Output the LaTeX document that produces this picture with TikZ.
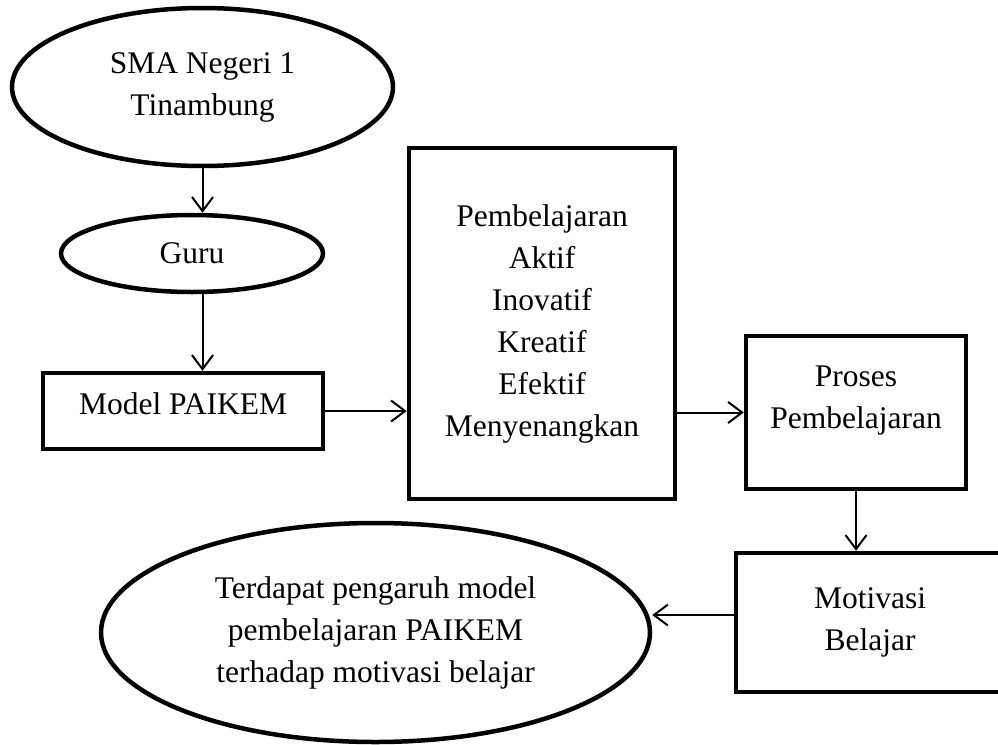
\documentclass[tikz,border=0pt]{standalone}
\usepackage{fontspec}
\setmainfont{Liberation Serif}
\usetikzlibrary{shapes.geometric,arrows.meta}
\begin{document}
\begin{tikzpicture}[x=1pt,y=-1pt,
  every node/.style={font=\fontsize{31.5}{42}\selectfont, align=center},
  oval/.style={ellipse, draw, line width=4.5pt, inner sep=4pt},
  boxst/.style={rectangle, draw, line width=4.5pt, inner sep=0pt},
  txt/.style={inner sep=0pt},
  arr/.style={line width=2pt, -{Straight Barb[length=14pt,width=21pt]}}]
\useasboundingbox (0,0) rectangle (998,744);
\clip (0,0) rectangle (998,744);
\node[oval, minimum width=381pt, minimum height=158pt] (school) at (202.5,87) {SMA Negeri 1\\Tinambung};
\node[oval, minimum width=262pt, minimum height=77pt] (guru) at (192,253.5) {Guru};
\node[boxst, minimum width=280pt, minimum height=76pt] (model) at (183,411) {};
\node[txt] (tmodel) at (183,404) {Model PAIKEM};
\node[boxst, minimum width=266pt, minimum height=351pt] (paikem) at (542,323.5) {Pembelajaran\\Aktif\\Inovatif\\Kreatif\\Efektif\\Menyenangkan};
\node[boxst, minimum width=220pt, minimum height=153pt] (proses) at (856,412.5) {};
\node[txt] (tproses) at (856,401) {Proses\\Pembelajaran};
\node[boxst, minimum width=268pt, minimum height=139pt] (motiv) at (870,622.5) {Motivasi\\Belajar};
\node[oval, minimum width=549pt, minimum height=219pt] (concl) at (375.5,632.5) {Terdapat pengaruh model\\pembelajaran PAIKEM\\terhadap motivasi belajar};
\draw[arr] (school.south) -- (school.south |- guru.north);
\draw[arr] (school.south |- guru.south) -- (school.south |- model.north);
\draw[arr] (model.east) -- (model.east -| paikem.west);
\draw[arr] (proses.west -| paikem.east) -- (proses.west);
\draw[arr] (proses.south) -- (proses.south |- motiv.north);
\draw[arr] ([yshift=7.5pt]motiv.west) -- ([yshift=7.5pt]motiv.west -| concl.east);
\end{tikzpicture}
\end{document}
